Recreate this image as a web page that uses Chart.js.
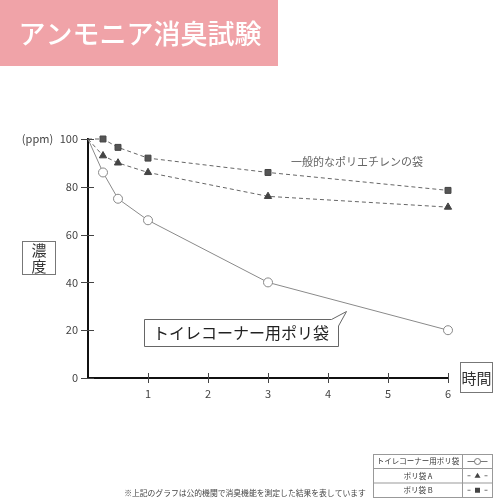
<!DOCTYPE html>
<html>
<head>
<meta charset="utf-8">
<script src="https://cdn.jsdelivr.net/npm/chart.js@4.4.1/dist/chart.umd.min.js"></script>
<style>
html,body{margin:0;padding:0;background:#fff;}
#wrap{width:500px;height:500px;position:relative;}
</style>
</head>
<body>
<div id="wrap"><canvas id="c" width="500" height="500"></canvas></div>
<script>
const FONT = '"Noto Sans CJK JP", "Noto Sans", sans-serif';
const title = 'アンモニア消臭試験';
const times = [0, 0.25, 0.5, 1, 3, 6];
const toiletBag = [100, 86, 75, 66, 40, 20];
const bagA = [100, 93, 90, 86, 76, 71.5];
const bagB = [100, 100, 96.5, 92, 86, 78.5];
const seriesNames = ['トイレコーナー用ポリ袋', 'ポリ袋 A', 'ポリ袋 B'];
const yTicks = [0, 20, 40, 60, 80, 100];
const xTicks = [1, 2, 3, 4, 5, 6];
const yUnit = '(ppm)';
const yTitle = ['濃', '度'];
const xTitle = '時間';
const genericLabel = '一般的なポリエチレンの袋';
const calloutLabel = 'トイレコーナー用ポリ袋';
const footnote = '※上記のグラフは公的機関で消臭機能を測定した結果を表しています';

function pts(vals){ return times.map((t,i)=>({x:t,y:vals[i]})); }
const radii = r => times.map((t,i)=> i===0 ? 0 : r);

const decor = {
  id:'decor',
  beforeDraw(chart){
    const ctx = chart.ctx;
    ctx.save();
    // title
    ctx.fillStyle = '#f0a3a8';
    ctx.fillRect(0, 0, 278, 66);
    ctx.fillStyle = '#ffffff';
    ctx.font = '500 27px ' + FONT;
    ctx.textAlign = 'center';
    ctx.textBaseline = 'middle';
    ctx.fillText(title, 140, 34);
    ctx.restore();
  },
  afterDatasetsDraw(chart){
    const ctx = chart.ctx;
    const xs = chart.scales.x, ys = chart.scales.y;
    const ax = xs.getPixelForValue(0), ay = ys.getPixelForValue(0);
    ctx.save();
    // tick marks crossing axes
    ctx.strokeStyle = '#444';
    ctx.lineWidth = 1;
    yTicks.forEach(v=>{
      const y = Math.round(ys.getPixelForValue(v)) + 0.5;
      ctx.beginPath(); ctx.moveTo(ax-7, y); ctx.lineTo(ax+6, y); ctx.stroke();
    });
    xTicks.forEach(v=>{
      const x = Math.round(xs.getPixelForValue(v)) + 0.5;
      ctx.beginPath(); ctx.moveTo(x, ay-5); ctx.lineTo(x, ay+5); ctx.stroke();
    });
    ctx.textBaseline = 'middle';
    // (ppm)
    ctx.fillStyle = '#444';
    ctx.font = '11px ' + FONT;
    ctx.textAlign = 'center';
    ctx.fillText(yUnit, 37.5, ys.getPixelForValue(100));
    // 濃度 box
    ctx.strokeStyle = '#777';
    ctx.strokeRect(22.5, 241.5, 33, 33);
    ctx.fillStyle = '#333';
    ctx.font = '15px ' + FONT;
    ctx.fillText(yTitle[0], 39, 250);
    ctx.fillText(yTitle[1], 39, 266);
    // 時間 box
    ctx.strokeRect(460.5, 362.5, 32, 30);
    ctx.fillText(xTitle, 476.5, 378);
    // generic label
    ctx.fillStyle = '#666';
    ctx.font = '11px ' + FONT;
    ctx.fillText(genericLabel, 357, 162);
    // callout
    ctx.beginPath();
    ctx.moveTo(144.5, 319.5);
    ctx.lineTo(331.5, 319.5);
    ctx.lineTo(346.5, 311.5);
    ctx.lineTo(338.5, 326);
    ctx.lineTo(338.5, 346.5);
    ctx.lineTo(144.5, 346.5);
    ctx.closePath();
    ctx.fillStyle = '#fff';
    ctx.fill();
    ctx.strokeStyle = '#666';
    ctx.stroke();
    ctx.fillStyle = '#222';
    ctx.font = '16px ' + FONT;
    ctx.fillText(calloutLabel, 241, 333);
    // footnote
    ctx.fillStyle = '#444';
    ctx.font = '7.8px ' + FONT;
    ctx.fillText(footnote, 245, 493);
    // legend table
    const L=373.5, M=462.5, R=492.5, rows=[454.5, 468.5, 483, 497.5];
    ctx.strokeStyle = '#999';
    ctx.lineWidth = 1;
    ctx.strokeRect(L, rows[0], R-L, rows[3]-rows[0]);
    ctx.beginPath();
    ctx.moveTo(L, rows[1]); ctx.lineTo(R, rows[1]);
    ctx.moveTo(L, rows[2]); ctx.lineTo(R, rows[2]);
    ctx.moveTo(M, rows[0]); ctx.lineTo(M, rows[3]);
    ctx.stroke();
    ctx.fillStyle = '#333';
    ctx.font = '7.5px ' + FONT;
    const sx = (M+R)/2;
    for(let i=0;i<3;i++){
      const cy = (rows[i]+rows[i+1])/2;
      ctx.fillStyle = '#333';
      ctx.fillText(seriesNames[i], (L+M)/2, cy);
      ctx.strokeStyle = '#777';
      ctx.beginPath();
      if(i===0){
        ctx.moveTo(sx-10, cy); ctx.lineTo(sx+10, cy); ctx.stroke();
        ctx.beginPath(); ctx.arc(sx, cy, 3, 0, Math.PI*2);
        ctx.fillStyle='#fff'; ctx.fill(); ctx.stroke();
      } else {
        ctx.moveTo(sx-10, cy); ctx.lineTo(sx-7, cy);
        ctx.moveTo(sx+7, cy); ctx.lineTo(sx+10, cy); ctx.stroke();
        ctx.fillStyle = '#444';
        ctx.beginPath();
        if(i===1){ ctx.moveTo(sx, cy-3); ctx.lineTo(sx+3, cy+2); ctx.lineTo(sx-3, cy+2); ctx.closePath(); }
        else { ctx.rect(sx-2.5, cy-2.5, 5, 5); }
        ctx.fill();
      }
    }
    ctx.restore();
  }
};

new Chart(document.getElementById('c'), {
  type:'line',
  data:{
    datasets:[
      {label:seriesNames[1], data:pts(bagA), borderColor:'#666', borderWidth:1, borderDash:[4,3],
       pointStyle:'triangle', pointRadius:radii(4.2), pointBackgroundColor:'#444', pointBorderColor:'#444', pointBorderWidth:1, tension:0},
      {label:seriesNames[2], data:pts(bagB), borderColor:'#666', borderWidth:1, borderDash:[4,3],
       pointStyle:'rect', pointRadius:radii(4.2), pointBackgroundColor:'#555', pointBorderColor:'#444', pointBorderWidth:1, tension:0},
      {label:seriesNames[0], data:pts(toiletBag), borderColor:'#8a8a8a', borderWidth:1,
       pointStyle:'circle', pointRadius:radii(4.5), pointBackgroundColor:'#fff', pointBorderColor:'#888', pointBorderWidth:1, tension:0}
    ]
  },
  options:{
    responsive:false,
    animation:false,
    devicePixelRatio:1,
    clip:false,
    layout:{padding:{left:0, right:52, top:139, bottom:92}},
    plugins:{legend:{display:false}, tooltip:{enabled:false}},
    scales:{
      x:{type:'linear', min:0, max:6,
        afterFit(s){ s.height = 30; },
        afterBuildTicks(s){ s.ticks = xTicks.map(v=>({value:v})); },
        grid:{display:false, drawTicks:false},
        border:{display:true, color:'#111', width:2},
        ticks:{padding:9, color:'#444', font:{family:FONT, size:11}}
      },
      y:{min:0, max:100,
        afterFit(s){ s.width = 88; },
        afterBuildTicks(s){ s.ticks = yTicks.map(v=>({value:v})); },
        grid:{display:false, drawTicks:false},
        border:{display:true, color:'#111', width:2},
        ticks:{padding:10, color:'#444', font:{family:FONT, size:11}}
      }
    }
  },
  plugins:[decor]
});
</script>
</body>
</html>
